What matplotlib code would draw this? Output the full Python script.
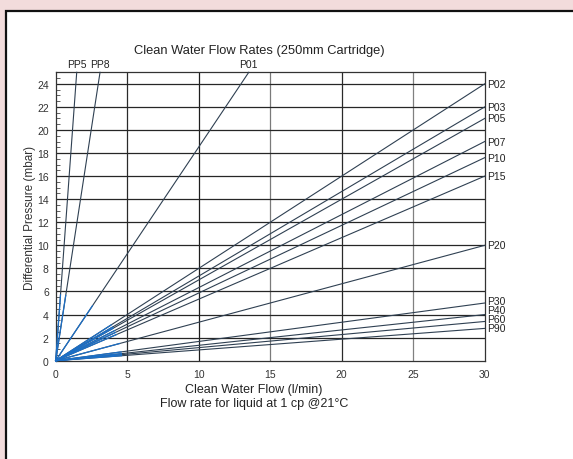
import numpy as np
import matplotlib
matplotlib.use("Agg")
import matplotlib.pyplot as plt
from matplotlib.patches import Rectangle

plt.rcParams['font.family'] = ['Liberation Sans', 'DejaVu Sans']

# filter grades and where each straight line ends (flow l/min, pressure mbar)
grades = ['PP5', 'PP8', 'P01', 'P02', 'P03', 'P05', 'P07', 'P10', 'P15',
          'P20', 'P30', 'P40', 'P60', 'P90']
end_flow = [1.47, 3.1, 13.5, 30, 30, 30, 30, 30, 30, 30, 30, 30, 30, 30]
end_dp = [25, 25, 25, 24, 22, 21, 19, 17.6, 16, 10, 5, 4, 3.4, 2.8]

x_ticks = [0, 5, 10, 15, 20, 25, 30]
y_ticks = [0, 2, 4, 6, 8, 10, 12, 14, 16, 18, 20, 22, 24]

fig = plt.figure(figsize=(5.73, 4.6), dpi=100)
fig.patch.set_facecolor('#f2dcdc')
# white scanned sheet with black border
fig.patches.append(Rectangle((0.0105, -0.05), 1.1, 0.05 + 1 - 12 / 460,
                             transform=fig.transFigure, facecolor='white',
                             edgecolor='#111111', linewidth=1.6, zorder=-5))

ax = fig.add_axes([55.7 / 573, 1 - 361.7 / 460, 429 / 573, (361.7 - 73.3) / 460])
ax.set_zorder(2)
ax.set_xlim(0, 30)
ax.set_ylim(0, 25)

# the scan shows some vertical grid lines darker than others
vcols = ['#2a2a2a', '#1e1e1e', '#7a7a7a', '#2a2a2a', '#808080']
for x, c in zip(x_ticks[1:-1], vcols):
    ax.axvline(x, color=c, lw=0.9, zorder=1)
for y in y_ticks[1:]:
    ax.axhline(y, color='#262626', lw=0.9, zorder=1)

line_col = '#2f4052'
blue = '#1c6fc6'
to_px = ax.transData
o_px = to_px.transform((0, 0))

# spread the right-hand labels so they don't sit on top of each other
right = sorted([(ye, n) for n, xe, ye in zip(grades, end_flow, end_dp) if ye < 25])
label_y = {}
prev = -99
for ye, n in right:
    yy = max(ye, prev + 0.78)
    label_y[n] = yy
    prev = yy

for name, xe, ye in zip(grades, end_flow, end_dp):
    ax.plot([0, xe], [0, ye], color=line_col, lw=0.8, zorder=3, clip_on=False)
    # bluish tint near the origin like the scan
    e_px = to_px.transform((xe, ye))
    frac = min(1.0, 66 / np.hypot(*(e_px - o_px)))
    ax.plot([0, xe * frac], [0, ye * frac], color=blue, lw=0.9, zorder=4,
            clip_on=False)
    if ye >= 25:
        ax.text(xe, ye + 0.3, name, ha='center', va='bottom', fontsize=7.5,
                color='#222222')
    else:
        ax.text(xe + 0.2, label_y[name], name, ha='left', va='center',
                fontsize=7.5, color='#222222')

ax.set_xticks(x_ticks)
ax.set_yticks(y_ticks)
ax.set_yticks(np.arange(0, 25, 0.5), minor=True)
ax.tick_params(axis='both', which='major', length=0, labelsize=7.5,
               labelcolor='#333333')
ax.tick_params(axis='x', pad=6)
ax.tick_params(axis='y', pad=5)
ax.tick_params(axis='y', which='minor', direction='in', length=3, width=0.6,
               color='#444444')

for s in ax.spines.values():
    s.set_color('#333333')
    s.set_linewidth(0.9)

ax.set_title('Clean Water Flow Rates (250mm Cartridge)', fontsize=9.3,
             color='#222222', pad=14, x=0.474)
ax.set_xlabel('Clean Water Flow (l/min)\nFlow rate for liquid at 1 cp @21\u00b0C',
              fontsize=9, color='#222222', labelpad=3, linespacing=1.25,
              x=0.462)
ax.set_ylabel('Differential Pressure (mbar)', fontsize=8.5, color='#333333')
ax.yaxis.set_label_coords(-0.046, 0.5)

fig.savefig('out.png', dpi=100, facecolor=fig.get_facecolor())
